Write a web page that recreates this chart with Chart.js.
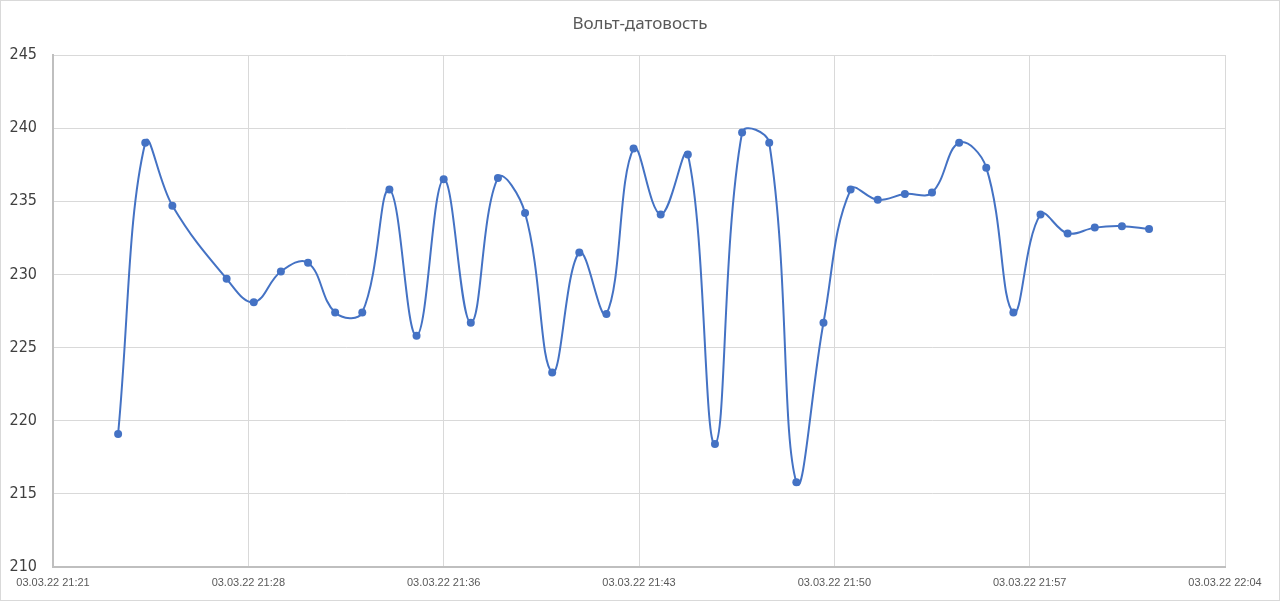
<!DOCTYPE html>
<html>
<head>
<meta charset="utf-8">
<script src="https://cdn.jsdelivr.net/npm/chart.js@4"></script>
<style>
    html, body { margin: 0; padding: 0; background: #ffffff; }
    #wrap { width: 1280px; height: 601px; position: relative; }
</style>
</head>
<body>
<div id="wrap"><canvas id="volt-chart"></canvas></div>
<script>
// readings, one per minute (21:27 is missing)
const times = [
    '21:24', '21:25', '21:26', '21:28', '21:29', '21:30', '21:31', '21:32', '21:33', '21:34',
    '21:35', '21:36', '21:37', '21:38', '21:39', '21:40', '21:41', '21:42', '21:43', '21:44',
    '21:45', '21:46', '21:47', '21:48', '21:49', '21:50', '21:51', '21:52', '21:53', '21:54',
    '21:55', '21:56', '21:57', '21:58', '21:59', '22:00', '22:01', '22:02'
];
const volts = [
    219.1, 239.0, 234.7, 229.7, 228.1, 230.2, 230.8, 227.4, 227.4, 235.8,
    225.8, 236.5, 226.7, 236.6, 234.2, 223.3, 231.5, 227.3, 238.6, 234.1,
    238.2, 218.4, 239.7, 239.0, 215.8, 226.7, 235.8, 235.1, 235.5, 235.6,
    239.0, 237.3, 227.4, 234.1, 232.8, 233.2, 233.3, 233.1
];
const tickTimes = ['21:21:36', '21:28:48', '21:36:00', '21:43:12', '21:50:24', '21:57:36', '22:04:48'];
const tickLabels = [
    '03.03.22 21:21', '03.03.22 21:28', '03.03.22 21:36', '03.03.22 21:43',
    '03.03.22 21:50', '03.03.22 21:57', '03.03.22 22:04'
];
const yTicks = [210, 215, 220, 225, 230, 235, 240, 245];
const chartTitle = 'Вольт-датовость';

function toMinutes(t) {
    const p = t.split(':').map(Number);
    return p[0] * 60 + p[1] + (p[2] || 0) / 60;
}

const tickValues = tickTimes.map(toMinutes);
const points = times.map((t, i) => ({ x: toMinutes(t), y: volts[i] }));

// white background, thin frame, and the title centred on the whole canvas
const frame = {
    id: 'frame',
    beforeDraw(chart) {
        const c = chart.ctx;
        c.save();
        c.fillStyle = '#ffffff';
        c.fillRect(0, 0, chart.width, chart.height);
        c.strokeStyle = '#d9d9d9';
        c.lineWidth = 1;
        c.strokeRect(0.5, 0.5, chart.width - 1, chart.height - 1);
        c.restore();
    },
    afterDraw(chart) {
        const c = chart.ctx;
        c.save();
        c.fillStyle = '#595959';
        c.font = '17px "Noto Sans"';
        c.textAlign = 'center';
        c.textBaseline = 'middle';
        c.fillText(chartTitle, chart.width / 2, 24);
        c.restore();
    }
};

new Chart(document.getElementById('volt-chart'), {
    type: 'line',
    data: {
        datasets: [{
            label: chartTitle,
            data: points,
            borderColor: '#4472c4',
            backgroundColor: '#4472c4',
            borderWidth: 2,
            pointRadius: 4,
            pointBorderWidth: 0,
            tension: 0.4,
            fill: false
        }]
    },
    options: {
        responsive: true,
        maintainAspectRatio: false,
        animation: false,
        layout: { padding: { left: 0, right: 55, top: 0, bottom: 0 } },
        plugins: {
            legend: { display: false },
            tooltip: { enabled: false },
            // only reserves the space; the visible title is drawn by the frame plugin
            title: {
                display: true,
                text: chartTitle,
                color: 'rgba(0,0,0,0)',
                font: { family: 'Noto Sans', size: 15, weight: 'normal' },
                padding: { top: 16, bottom: 21 }
            }
        },
        scales: {
            x: {
                type: 'linear',
                min: tickValues[0],
                max: tickValues[tickValues.length - 1],
                afterBuildTicks(axis) {
                    axis.ticks = tickValues.map(v => ({ value: v }));
                },
                afterFit(axis) { axis.height = 34; },
                grid: { color: '#d9d9d9', lineWidth: 1, drawTicks: false },
                border: { color: '#bfbfbf', width: 2 },
                ticks: {
                    padding: 9,
                    maxRotation: 0,
                    autoSkip: false,
                    color: '#595959',
                    font: { family: 'Liberation Sans', size: 11 },
                    callback: (v, i) => tickLabels[i]
                }
            },
            y: {
                min: yTicks[0],
                max: yTicks[yTicks.length - 1],
                afterBuildTicks(axis) {
                    axis.ticks = yTicks.map(v => ({ value: v }));
                },
                afterFit(axis) { axis.width = 53; },
                grid: { color: '#d9d9d9', lineWidth: 1, drawTicks: false },
                border: { color: '#bfbfbf', width: 2 },
                ticks: {
                    padding: 16,
                    color: '#404040',
                    font: { family: "'DejaVu Sans Condensed', Roboto, sans-serif", size: 16 }
                }
            }
        }
    },
    plugins: [frame]
});
</script>
</body>
</html>
